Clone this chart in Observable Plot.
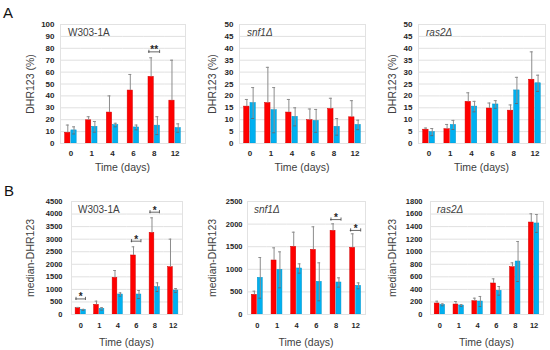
<!DOCTYPE html>
<html><head><meta charset="utf-8">
<script src="https://cdn.jsdelivr.net/npm/d3@7"></script>
<script src="https://cdn.jsdelivr.net/npm/@observablehq/plot@0.6"></script>
<style>
body{margin:0;background:#fff;}
#fig{position:relative;width:550px;height:350px;overflow:hidden;background:#fff;font-family:"Liberation Sans",Arial,sans-serif;}
.panel{position:absolute;}
.panel svg{overflow:visible;}
.lbl{position:absolute;white-space:nowrap;color:#404040;line-height:1;}
.big{position:absolute;font-size:15px;color:#111;line-height:1;}
.frame{position:absolute;border:1px solid #e2e2e2;box-sizing:border-box;pointer-events:none;}
</style></head>
<body><div id="fig"></div>
<script>
// ---- data ----
const days = [0, 1, 4, 6, 8, 12];
const seriesKeys = ["s1", "s2"];
const seriesColors = ["#ff0000", "#00b0f0"];

// Panel A: DHR123 (%)
const a1Name = "W303-1A";
const a1S1 = [9, 19.5, 26, 44.5, 56, 36];
const a1E1 = [6.5, 3, 14, 13.5, 16, 34];
const a1S2 = [11, 14, 15.5, 13.5, 15, 13];
const a1E2 = [3, 4.5, 1.5, 2, 7.5, 3.5];
const a1Sig = [null, null, null, null, 77, null];
const a1Ticks = [0, 10, 20, 30, 40, 50, 60, 70, 80, 90, 100];

const a2Name = "snf1Δ";
const a2S1 = [15.5, 17, 13, 9.8, 14.5, 11];
const a2E1 = [3, 15, 5.5, 4.7, 4.5, 7];
const a2S2 = [17, 14, 11.2, 9.5, 7, 7.8];
const a2E2 = [6.5, 9.5, 3.8, 4.8, 3.5, 2];
const a2Sig = [null, null, null, null, null, null];
const a2Ticks = [0, 5, 10, 15, 20, 25, 30, 35, 40, 45, 50];

const a3Name = "ras2Δ";
const a3S1 = [5.8, 6, 17.5, 14.7, 13.8, 26.8];
const a3E1 = [0.7, 2, 3.8, 2.3, 2.4, 11.7];
const a3S2 = [4.8, 7.8, 15.5, 16.4, 22.3, 25.3];
const a3E2 = [1.5, 1.9, 2.2, 1.6, 5.5, 3.4];
const a3Sig = [null, null, null, null, null, null];
const a3Ticks = [0, 5, 10, 15, 20, 25, 30, 35, 40, 45, 50];

// Panel B: median-DHR123
const b1Name = "W303-1A";
const b1S1 = [252, 385, 1460, 2350, 3250, 1885];
const b1E1 = [30, 146, 292, 345, 600, 1115];
const b1S2 = [186, 226, 796, 796, 1088, 956];
const b1E2 = [20, 53, 67, 160, 173, 79];
const b1Sig = [620, null, null, 2920, 4075, null];
const b1Ticks = [0, 500, 1000, 1500, 2000, 2500, 3000, 3500, 4000, 4500];

const b2Name = "snf1Δ";
const b2S1 = [435, 1195, 1497, 1431, 1851, 1475];
const b2E1 = [81, 280, 324, 509, 155, 310];
const b2S2 = [811, 988, 1018, 723, 708, 634];
const b2E2 = [450, 398, 103, 420, 103, 66];
const b2Sig = [null, null, null, null, 2100, 1860];
const b2Ticks = [0, 500, 1000, 1500, 2000, 2500];

const b3Name = "ras2Δ";
const b3S1 = [175, 159, 212, 494, 754, 1465];
const b3E1 = [37, 48, 48, 74, 69, 139];
const b3S2 = [154, 143, 207, 377, 844, 1450];
const b3E2 = [16, 16, 80, 69, 319, 143];
const b3Sig = [null, null, null, null, null, null];
const b3Ticks = [0, 200, 400, 600, 800, 1000, 1200, 1400, 1600, 1800];

const xTitle = "Time (days)";
const yTitleA = "DHR123 (%)";
const yTitleB = "median-DHR123";

// ---- layout ----
const panels = [
  {name:a1Name, italic:false, s1:a1S1, e1:a1E1, s2:a1S2, e2:a1E2, sig:a1Sig, star:"**", ticks:a1Ticks, yTitle:yTitleA,
   left:0, top:0, w:190, h:175, mL:60, mR:5, mT:24, mB:32, ypad:6, xpad:7, fs:8},
  {name:a2Name, italic:true, s1:a2S1, e1:a2E1, s2:a2S2, e2:a2E2, sig:a2Sig, star:"*", ticks:a2Ticks, yTitle:yTitleA,
   left:180, top:0, w:190, h:175, mL:59, mR:5, mT:24, mB:32, ypad:6, xpad:7, fs:8},
  {name:a3Name, italic:true, s1:a3S1, e1:a3E1, s2:a3S2, e2:a3E2, sig:a3Sig, star:"*", ticks:a3Ticks, yTitle:yTitleA,
   left:360, top:0, w:190, h:175, mL:58, mR:5, mT:24, mB:32, ypad:6, xpad:7, fs:8},
  {name:b1Name, italic:false, s1:b1S1, e1:b1E1, s2:b1S2, e2:b1E2, sig:b1Sig, star:"*", ticks:b1Ticks, yTitle:yTitleB,
   left:0, top:175, w:190, h:175, mL:71, mR:8, mT:26, mB:36, ypad:9, xpad:8, fs:7.5},
  {name:b2Name, italic:true, s1:b2S1, e1:b2E1, s2:b2S2, e2:b2E2, sig:b2Sig, star:"*", ticks:b2Ticks, yTitle:yTitleB,
   left:180, top:175, w:190, h:175, mL:67, mR:5, mT:26, mB:36, ypad:5, xpad:8, fs:7.5},
  {name:b3Name, italic:true, s1:b3S1, e1:b3E1, s2:b3S2, e2:b3E2, sig:b3Sig, star:"*", ticks:b3Ticks, yTitle:yTitleB,
   left:360, top:175, w:190, h:175, mL:70, mR:7, mT:26, mB:36, ypad:8, xpad:8, fs:7.5}
];

const fig = document.getElementById("fig");
const PI = 0.15, PO = 0.75;

function addLabel(text, css, cls = "lbl") {
  const el = document.createElement("div");
  el.className = cls;
  el.textContent = text;
  Object.assign(el.style, css);
  fig.appendChild(el);
  return el;
}

panels.forEach((cfg, pi) => {
  const rows = [];
  days.forEach((d, i) => {
    rows.push({day: d, series: "s1", value: cfg.s1[i], err: cfg.e1[i], sig: cfg.sig[i]});
    rows.push({day: d, series: "s2", value: cfg.s2[i], err: cfg.e2[i], sig: cfg.sig[i]});
  });
  const fw = (cfg.w - cfg.mL - cfg.mR) / days.length;
  const bw = d3.scaleBand().domain(seriesKeys).range([0, fw]).paddingInner(PI).paddingOuter(PO).bandwidth();
  const errColor = "#8c8c8c";
  const ymax = cfg.ticks[cfg.ticks.length - 1];

  const chart = Plot.plot({
    width: cfg.w, height: cfg.h,
    marginLeft: cfg.mL, marginRight: cfg.mR, marginTop: cfg.mT, marginBottom: cfg.mB,
    style: {fontFamily: "'Liberation Sans', Arial, sans-serif", fontSize: cfg.fs + "px", fontWeight: "bold", color: "#262626", background: "transparent", overflow: "visible"},
    facet: {data: rows, x: "day"},
    fx: {domain: days, padding: 0, round: false, axis: "bottom", tickSize: 0, tickPadding: cfg.xpad, label: null},
    x: {domain: seriesKeys, paddingInner: PI, paddingOuter: PO, round: false, axis: null},
    y: {domain: [0, ymax], ticks: cfg.ticks, tickFormat: "d", tickSize: 0, tickPadding: cfg.ypad, label: null},
    color: {domain: seriesKeys, range: seriesColors},
    marks: [
      Plot.ruleY(cfg.ticks, {stroke: "#e0e0e0", strokeWidth: 1}),
      Plot.barY(rows, {x: "series", y: "value", fill: "series",
        stroke: d => d.series === "s1" ? "#d00000" : "#0095cc", strokeWidth: 0.5}),
      Plot.ruleX(rows, {x: "series", y1: d => d.series === "s2" ? d.value - d.err : d.value, y2: d => d.value + d.err, stroke: errColor, strokeWidth: 1}),
      Plot.tickY(rows, {x: "series", y: d => d.value + d.err, stroke: errColor, insetLeft: bw * 0.22, insetRight: bw * 0.22}),
      Plot.tickY(rows, {filter: d => d.series === "s2", x: "series", y: d => d.value - d.err, stroke: "#5a6e7a", insetLeft: bw * 0.22, insetRight: bw * 0.22}),
      Plot.ruleY(rows, {filter: d => d.series === "s1" && d.sig != null, x1: () => "s1", x2: () => "s2", y: "sig", stroke: "#404040", strokeWidth: 0.8}),
      Plot.ruleX(rows, {filter: d => d.series === "s1" && d.sig != null, x: "series", y1: "sig", y2: "sig", dx: -bw / 2 + 0.4, insetTop: -1.6, insetBottom: -1.6, stroke: "#404040", strokeWidth: 0.8}),
      Plot.ruleX(rows, {filter: d => d.series === "s2" && d.sig != null, x: "series", y1: "sig", y2: "sig", dx: bw / 2 - 0.4, insetTop: -1.6, insetBottom: -1.6, stroke: "#404040", strokeWidth: 0.8}),
      Plot.text(rows, {filter: d => d.series === "s1" && d.sig != null, y: "sig", text: () => cfg.star, lineAnchor: "bottom", dy: 1.5, fontSize: 10, fill: "#262626"})
    ]
  });
  const wrap = document.createElement("div");
  wrap.className = "panel";
  wrap.style.left = cfg.left + "px";
  wrap.style.top = cfg.top + "px";
  wrap.appendChild(chart);
  fig.appendChild(wrap);

  // plot-area frame
  const fr = document.createElement("div");
  fr.className = "frame";
  Object.assign(fr.style, {left: (cfg.left + cfg.mL) + "px", top: (cfg.top + cfg.mT) + "px",
    width: (cfg.w - cfg.mL - cfg.mR + 1) + "px", height: (cfg.h - cfg.mT - cfg.mB + 1) + "px"});
  fig.appendChild(fr);

  const cx = cfg.left + cfg.mL + (cfg.w - cfg.mL - cfg.mR) / 2;
  const cy = cfg.top + cfg.mT + (cfg.h - cfg.mT - cfg.mB) / 2;
  // x title
  addLabel(xTitle, {left: cx + "px", top: (cfg.top + cfg.h - 8) + "px", fontSize: "10.5px", transform: "translate(-50%,-50%)"});
  // y title
  addLabel(cfg.yTitle, {left: (cfg.left + (pi % 3 === 0 ? 30 : 32)) + "px", top: cy + "px", fontSize: "10.5px", transform: "translate(-50%,-50%) rotate(-90deg)"});
  // panel name
  addLabel(cfg.name, {left: (cfg.left + cfg.mL + (pi < 3 ? 8 : 7)) + "px", top: (cfg.top + cfg.mT + 4) + "px", fontSize: "10px", fontStyle: cfg.italic ? "italic" : "normal"});
});

addLabel("A", {left: "3px", top: "5px"}, "big");
addLabel("B", {left: "4px", top: "183px"}, "big");
</script>
</body></html>
